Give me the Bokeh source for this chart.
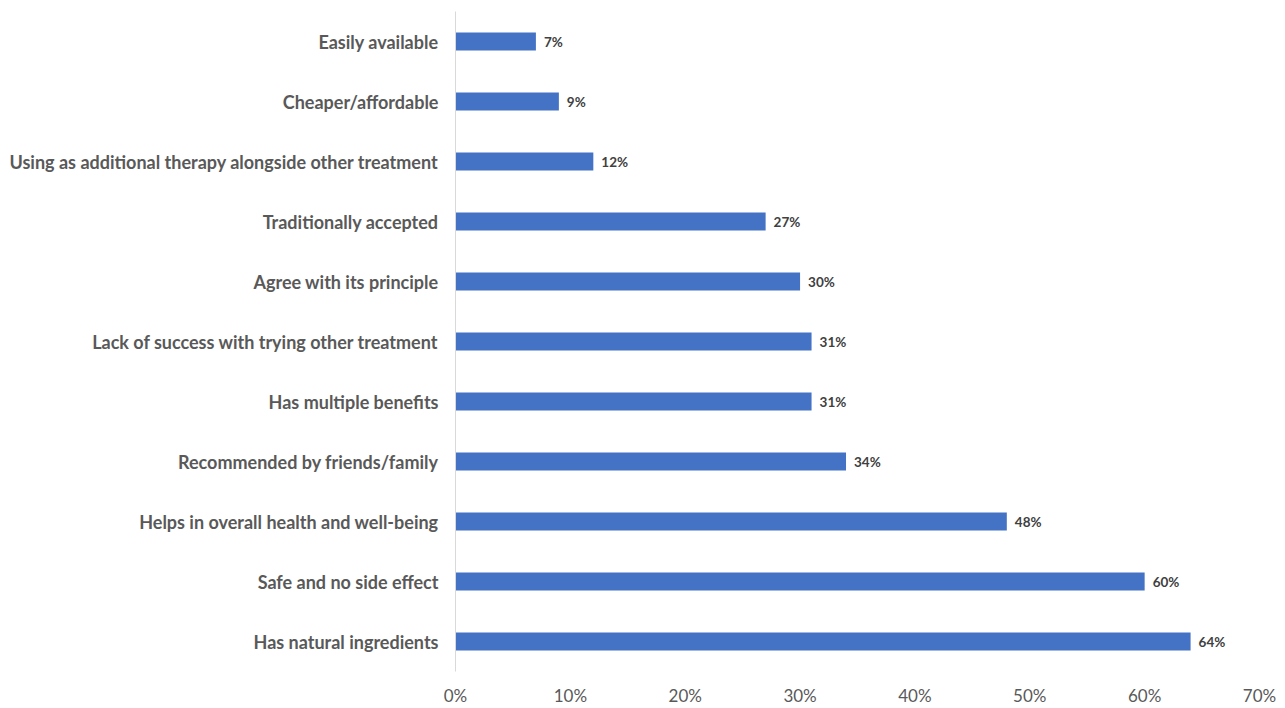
from bokeh.plotting import figure
from bokeh.models import ColumnDataSource, FixedTicker, PrintfTickFormatter, Range1d
from bokeh.embed import file_html
from bokeh.resources import INLINE
from bokeh.core.properties import value

categories = [
    "Easily available",
    "Cheaper/affordable",
    "Using as additional therapy alongside other treatment",
    "Traditionally accepted",
    "Agree with its principle",
    "Lack of success with trying other treatment",
    "Has multiple benefits",
    "Recommended by friends/family",
    "Helps in overall health and well-being",
    "Safe and no side effect",
    "Has natural ingredients",
]
values = [7, 9, 12, 27, 30, 31, 31, 34, 48, 60, 64]
x_ticks = [0, 10, 20, 30, 40, 50, 60, 70]

labels = [f"{v}%" for v in values]
src = ColumnDataSource(dict(cat=categories, val=values, lab=labels))

p = figure(
    width=1285, height=708,
    y_range=list(reversed(categories)),
    x_range=Range1d(0, 70),
    output_backend="svg", toolbar_location=None,
    min_border_left=455, min_border_right=26, min_border_top=11, min_border_bottom=34,
)
p.outline_line_color = None
p.background_fill_color = "white"
p.border_fill_color = "white"

p.hbar(y="cat", right="val", left=0, height=0.3, source=src,
       fill_color="#4472C4", line_color=None)
p.text(x="val", y="cat", text="lab", source=src, x_offset=8,
       text_font=value("Lato"), text_font_style="bold", text_font_size="13.5px",
       text_color="#404040", text_baseline="middle", text_align="left")

p.xgrid.visible = False
p.ygrid.visible = False

xa = p.xaxis[0]
xa.ticker = FixedTicker(ticks=x_ticks)
xa.formatter = PrintfTickFormatter(format="%d%%")
xa.axis_line_color = None
xa.major_tick_line_color = None
xa.minor_tick_line_color = None
xa.major_tick_out = 0
xa.major_label_standoff = 13
xa.major_label_text_font = "Lato"
xa.major_label_text_font_size = "17px"
xa.major_label_text_color = "#595959"

ya = p.yaxis[0]
ya.axis_line_color = "#D9D9D9"
ya.axis_line_width = 1
ya.major_tick_line_color = None
ya.minor_tick_line_color = None
ya.major_tick_out = 0
ya.major_label_standoff = 17
ya.major_label_text_font = "Lato"
ya.major_label_text_font_style = "bold"
ya.major_label_text_font_size = "18px"
ya.major_label_text_color = "#595959"

open("out.html", "w").write(file_html(p, INLINE))
